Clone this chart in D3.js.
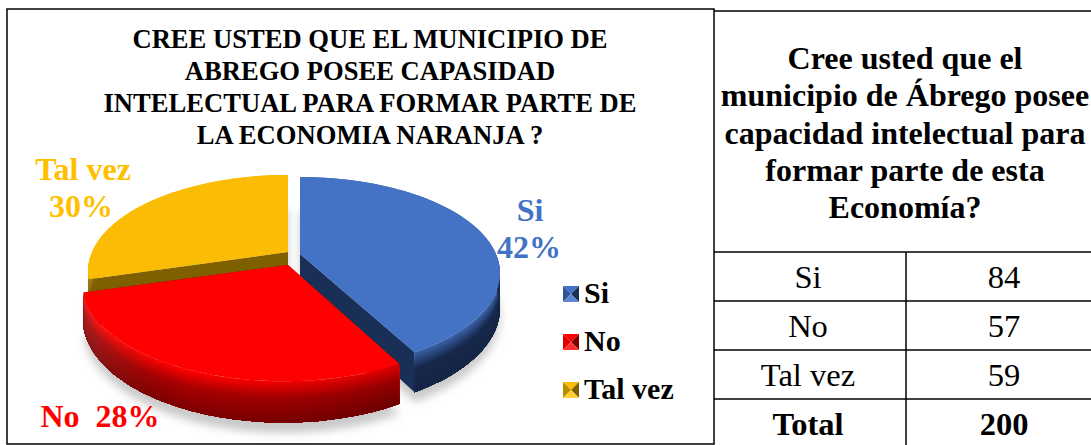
<!DOCTYPE html>
<html>
<head>
<meta charset="utf-8">
<script src="https://cdn.jsdelivr.net/npm/d3@7"></script>
<style>
  html, body { margin: 0; padding: 0; background: #fff; }
  svg { display: block; }
  text { font-family: "Liberation Serif", "Times New Roman", serif; }
</style>
</head>
<body>
<div id="chart"></div>
<script>
const categories = ["Si", "No", "Tal vez"];
const counts = [84, 57, 59];
const percents = [42, 28, 30];
const totalLabel = "Total";
const totalValue = 200;

const chartTitle = [
  "CREE USTED QUE EL MUNICIPIO DE",
  "ABREGO POSEE CAPASIDAD",
  "INTELECTUAL PARA FORMAR PARTE DE",
  "LA ECONOMIA NARANJA ?"
];
const tableTitle = [
  "Cree usted que el",
  "municipio de Ábrego posee",
  "capacidad intelectual para",
  "formar parte de esta",
  "Economía?"
];

const width = 1091;
const height = 445;

const svg = d3.select("#chart").append("svg")
  .attr("width", width)
  .attr("height", height);

const defs = svg.append("defs");
defs.append("filter")
  .attr("id", "soft")
  .attr("x", "-10%").attr("y", "-10%")
  .attr("width", "120%").attr("height", "120%")
  .append("feGaussianBlur")
  .attr("stdDeviation", 4);

// darkens the rim toward the right, like the light coming from the left
const shade = defs.append("linearGradient")
  .attr("id", "rimShade")
  .attr("gradientUnits", "userSpaceOnUse")
  .attr("x1", 80).attr("x2", 420)
  .attr("y1", 0).attr("y2", 0);
shade.append("stop").attr("offset", 0).attr("stop-color", "#fff").attr("stop-opacity", 0.12);
shade.append("stop").attr("offset", 0.3).attr("stop-color", "#000").attr("stop-opacity", 0);
shade.append("stop").attr("offset", 1).attr("stop-color", "#000").attr("stop-opacity", 0.15);

// per slice look: face, cut wall, rim ramp and where it is pushed out to
const looks = [
  { face: "#4472c4", label: "#4472c4", cut: "#1a2f55", ramp: ["#4472c4", "#1b3059", "#182b50"], dx: 0, apexDx: 0, dy: 0, grow: 1, swatchLeft: "#2f5597", swatchBottom: "#5b86d3" },
  { face: "#ff0000", label: "#ff0000", cut: "#800000", ramp: ["#ff0000", "#a80000", "#7c0000"], dx: -16, apexDx: -12, dy: 11, grow: 1.005, swatchLeft: "#e00000", swatchBottom: "#ff3030" },
  { face: "#fbbc05", label: "#ffc000", cut: "#7f6000", ramp: ["#ffc000", "#a88000", "#7f6000"], dx: -12, apexDx: -12, dy: -2, grow: 1, swatchLeft: "#b88c00", swatchBottom: "#ffd030" }
];

// perspective pie: tilted disc, near side bigger
const cx = 300, cy = 254;
const rx = 196, ry = 92.4, persp = 0.2, depth = 33;

function project(angle, look, t) {
  const u = Math.sin(angle) * look.grow;
  const v = -Math.cos(angle) * look.grow;
  const w = 1 - persp * v;
  return [
    cx + look.dx + rx * u / w,
    cy + look.dy + (ry * v + depth * t) / w
  ];
}
function apex(look, t) {
  return [cx + look.apexDx, cy + look.dy + depth * t];
}

const line = d3.line();
const slices = d3.pie().sort(null).value(d => d)(counts)
  .map((s, i) => ({ ...s, look: looks[i] }));

function arcPoints(s, t, n) {
  return d3.range(n + 1).map(j =>
    project(s.startAngle + (s.endAngle - s.startAngle) * j / n, s.look, t));
}
function facePath(s, t) {
  return line([apex(s.look, t), ...arcPoints(s, t, 90)]) + "Z";
}

// shadow under everything
svg.append("g")
  .attr("filter", "url(#soft)")
  .selectAll("path")
  .data(slices)
  .join("path")
    .attr("d", d => facePath(d, 1.25))
    .attr("fill", "#c9c9c9");

// back to front
const drawOrder = [2, 0, 1];
const pieG = svg.append("g");
drawOrder.forEach(i => {
  const s = slices[i];
  const g = pieG.append("g");

  // flat cut walls
  [s.startAngle, s.endAngle].forEach(a => {
    const top = project(a, s.look, 0);
    const bottom = project(a, s.look, 1);
    g.append("path")
      .attr("d", line([apex(s.look, 0), top, bottom, apex(s.look, 1)]) + "Z")
      .attr("fill", s.look.cut);
  });

  // rim as stacked bands, each reaching to the bottom so no seams show
  const ramp = d3.scaleLinear()
    .domain([0, 0.4, 1])
    .range(s.look.ramp)
    .interpolate(d3.interpolateRgb);
  const bands = d3.range(0, 1, 1 / 40);
  g.selectAll("path.band")
    .data(bands)
    .join("path")
      .attr("class", "band")
      .attr("d", t => line([...arcPoints(s, t, 70), ...arcPoints(s, 1, 70).reverse()]) + "Z")
      .attr("fill", t => ramp(t));
  g.append("path")
    .attr("d", line([...arcPoints(s, 0, 70), ...arcPoints(s, 1, 70).reverse()]) + "Z")
    .attr("fill", "url(#rimShade)");

  g.append("path")
    .attr("d", facePath(s, 0))
    .attr("fill", s.look.face);
});

// chart box
svg.append("rect")
  .attr("x", 7).attr("y", 9)
  .attr("width", 707).attr("height", 435)
  .attr("fill", "none")
  .attr("stroke", "#000")
  .attr("stroke-width", 1.5);

const titleY = d3.scalePoint().domain(d3.range(chartTitle.length)).range([48, 144]);
svg.append("g")
  .selectAll("text")
  .data(chartTitle)
  .join("text")
    .attr("x", 370)
    .attr("y", (d, i) => titleY(i))
    .attr("text-anchor", "middle")
    .attr("font-size", 26.6)
    .attr("font-weight", "bold")
    .text(d => d);

// data labels
const labelPos = [
  [{ t: categories[0], x: 530, y: 221 }, { t: percents[0] + "%", x: 529, y: 258 }],
  [{ t: categories[1] + "  " + percents[1] + "%", x: 100, y: 427 }],
  [{ t: categories[2], x: 83, y: 180 }, { t: percents[2] + "%", x: 81, y: 217 }]
];
labelPos.forEach((rows, i) => {
  svg.append("g")
    .selectAll("text")
    .data(rows)
    .join("text")
      .attr("x", d => d.x)
      .attr("y", d => d.y)
      .attr("text-anchor", "middle")
      .attr("font-size", 32)
      .attr("font-weight", "bold")
      .attr("xml:space", "preserve")
      .attr("fill", looks[i].label)
      .text(d => d.t);
});

// legend
const legendY = d3.scalePoint().domain(categories).range([294, 390]);
const swatch = 16;
const legend = svg.append("g")
  .selectAll("g")
  .data(categories)
  .join("g")
    .attr("transform", d => `translate(563,${legendY(d)})`);
legend.each(function(d, i) {
  const g = d3.select(this);
  const look = looks[i];
  const s = swatch / 2;
  const tris = [
    { p: [[-s, -s], [s, -s], [0, 0]], f: look.face },
    { p: [[-s, -s], [-s, s], [0, 0]], f: look.swatchLeft },
    { p: [[s, -s], [s, s], [0, 0]], f: look.cut },
    { p: [[-s, s], [s, s], [0, 0]], f: look.swatchBottom }
  ];
  g.selectAll("path")
    .data(tris)
    .join("path")
      .attr("transform", `translate(${s},0)`)
      .attr("d", t => line(t.p) + "Z")
      .attr("fill", t => t.f);
  g.append("text")
    .attr("x", 21)
    .attr("y", 9)
    .attr("font-size", 30)
    .attr("font-weight", "bold")
    .text(d);
});

// table on the right
const colSplit = 906, tableLeft = 714, tableRight = 1091;
const rowLabels = [...categories, totalLabel];
const rowValues = [...counts, totalValue];
const rowY = d3.scaleBand().domain(rowLabels).range([252, 448]);

const headY = d3.scalePoint().domain(d3.range(tableTitle.length)).range([69, 218]);
svg.append("g")
  .selectAll("text")
  .data(tableTitle)
  .join("text")
    .attr("x", 905)
    .attr("y", (d, i) => headY(i))
    .attr("text-anchor", "middle")
    .attr("font-size", 32)
    .attr("font-weight", "bold")
    .text(d => d);

const rules = svg.append("g").attr("stroke", "#000").attr("stroke-width", 1.5);
rules.selectAll("line.row")
  .data([11, ...rowLabels.map(d => rowY(d))])
  .join("line")
    .attr("class", "row")
    .attr("x1", tableLeft).attr("x2", tableRight)
    .attr("y1", d => d).attr("y2", d => d);
rules.append("line")
  .attr("x1", colSplit).attr("x2", colSplit)
  .attr("y1", 252).attr("y2", 445);

const rows = svg.append("g")
  .selectAll("g")
  .data(rowLabels)
  .join("g")
    .attr("font-size", 32.5)
    .attr("font-weight", d => d === totalLabel ? "bold" : "normal");
rows.append("text")
  .attr("x", 808)
  .attr("y", d => rowY(d) + 36)
  .attr("text-anchor", "middle")
  .text(d => d);
rows.append("text")
  .attr("x", 1004)
  .attr("y", d => rowY(d) + 36)
  .attr("text-anchor", "middle")
  .text((d, i) => rowValues[i]);
</script>
</body>
</html>
